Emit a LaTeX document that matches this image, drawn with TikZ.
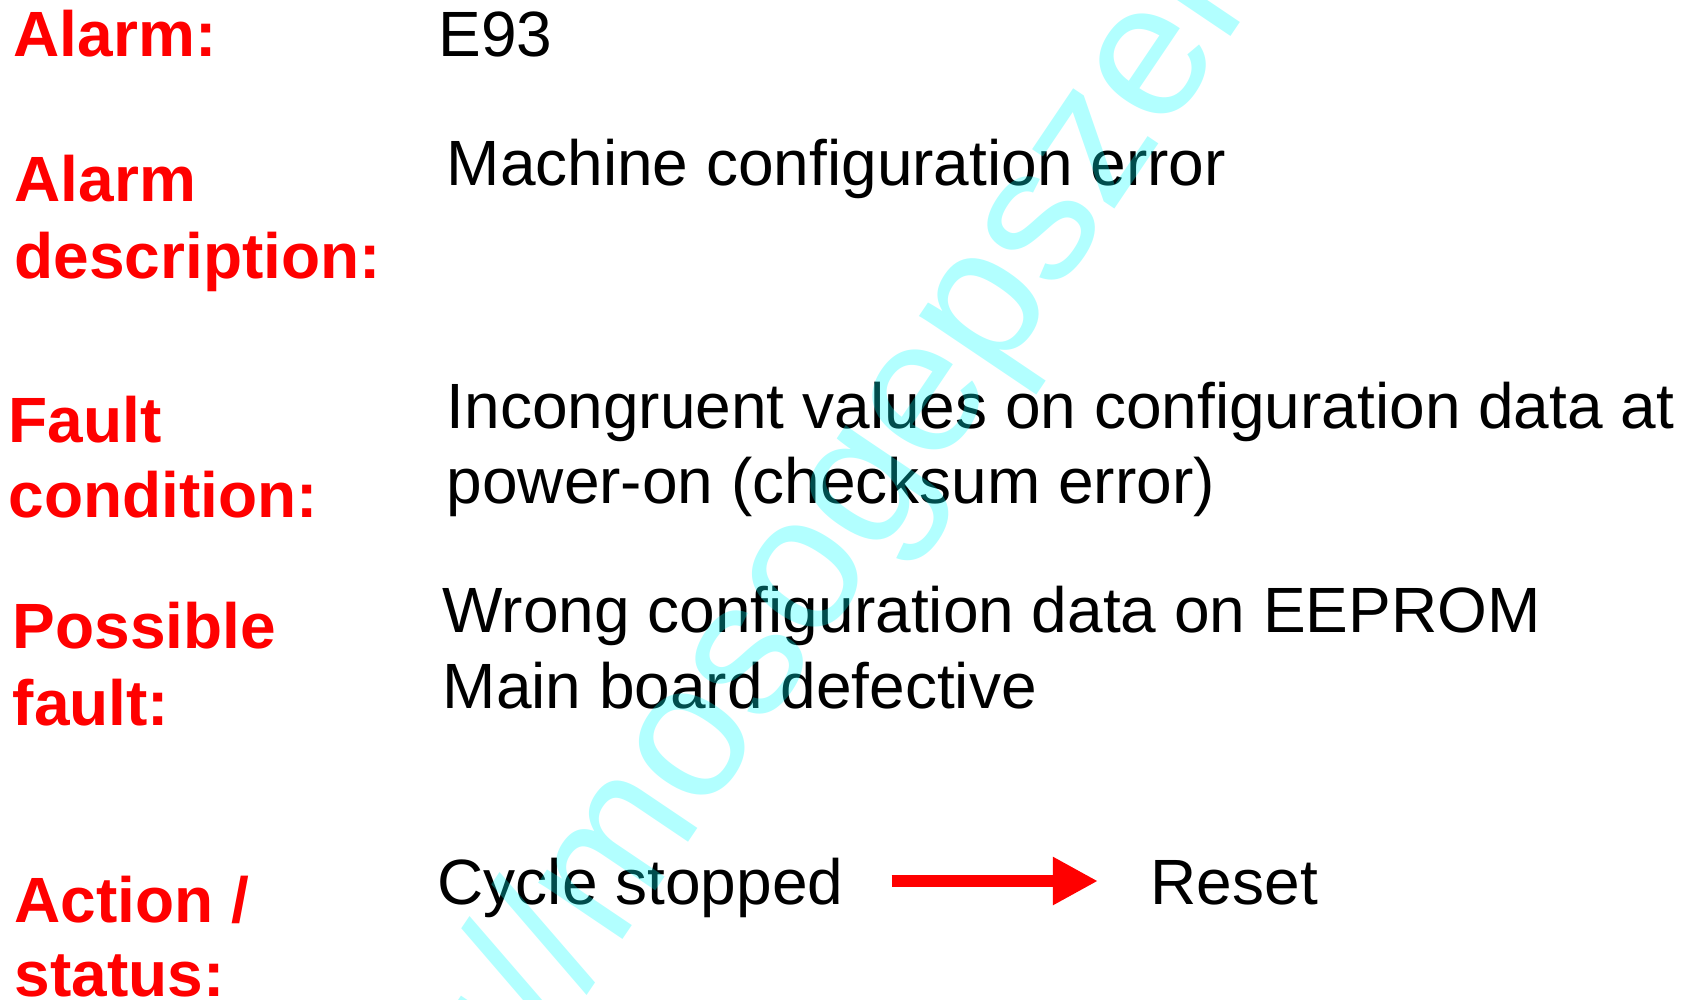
\documentclass[tikz,border=0pt]{standalone}
\usepackage{fontspec}
\setmainfont{Liberation Sans}
\usetikzlibrary{arrows.meta}

\definecolor{wmcyan}{RGB}{0,255,255}
\definecolor{alarmred}{RGB}{255,0,0}

\tikzset{
  lbl/.style={anchor=base west, inner sep=0pt, text=alarmred, font=\fontsize{18.2}{22}\selectfont\bfseries},
  txt/.style={anchor=base west, inner sep=0pt, font=\fontsize{18.2}{22}\selectfont},
  flow/.style={alarmred, line width=0.12cm, -{Triangle[length=0.45cm,width=0.45cm]}},
  stamp/.style={anchor=base west, inner sep=0pt, text=wmcyan, text opacity=0.3, rotate=56, font=\fontsize{54.6}{60}\selectfont},
}

\begin{document}
\begin{tikzpicture}[x=0.01cm, y=-0.01cm]
    \useasboundingbox (0,0) rectangle (1689,999);

    % left column
    \node [lbl] (alarm) at (13,56) {Alarm:};
    \node [lbl] (desc1) at (14,201) {Alarm};
    \node [lbl] (desc2) at (14,278) {description:};
    \node [lbl] (cond1) at (8,442) {Fault};
    \node [lbl] (cond2) at (8,517) {condition:};
    \node [lbl] (poss1) at (12,648) {Possible};
    \node [lbl] (poss2) at (12,725) {fault:};
    \node [lbl] (act1) at (14,922) {Action /};
    \node [lbl] (act2) at (14,996) {status:};

    % right column
    \node [txt] (code) at (438,56) {E93};
    \node [txt] (descr) at (446,185) {Machine configuration error};
    \node [txt] (fc1) at (446,428) {Incongruent values on configuration data at};
    \node [txt] (fc2) at (446,503) {power-on (checksum error)};
    \node [txt] (pf1) at (442,632) {Wrong configuration data on EEPROM};
    \node [txt] (pf2) at (442,708) {Main board defective};
    \node [txt] (cyc) at (437,904) {Cycle stopped};
    \node [txt] (rst) at (1150,904) {Reset};

    \draw [flow] ([xshift=0.475cm,yshift=0.23cm]cyc.base east) -- ([xshift=-0.52cm,yshift=0.23cm]rst.base west);

    % watermark
    \begin{scope}
      \clip (0,0) rectangle (1689,999);
      \node [stamp] (wm) at (346,1349) {http://mosogepszerviz.hu};
    \end{scope}
\end{tikzpicture}
\end{document}
